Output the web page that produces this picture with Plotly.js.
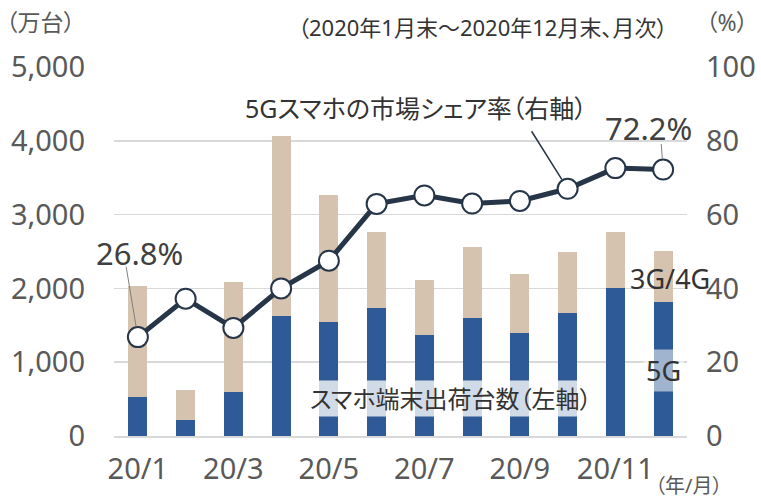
<!DOCTYPE html>
<html>
<head>
<meta charset="utf-8">
<script src="https://cdn.plot.ly/plotly-3.0.1.min.js"></script>
<style>
  html, body { margin: 0; padding: 0; background: #fff; }
  #chart { width: 761px; height: 501px; }
  svg text { font-feature-settings: "palt" 1; }
</style>
</head>
<body>
<div id="chart"></div>
<script>
// ---- data ----
const months = ['20/1','20/2','20/3','20/4','20/5','20/6','20/7','20/8','20/9','20/10','20/11','20/12'];
const shipments5G = [530, 220, 600, 1630, 1550, 1740, 1370, 1600, 1390, 1660, 2000, 1810];   // 万台
const shipments34G = [1500, 400, 1490, 2440, 1720, 1020, 750, 960, 800, 830, 760, 700];      // 万台
const share5G = [26.8, 37.2, 29.3, 40.0, 47.5, 62.9, 65.2, 63.0, 63.7, 67.0, 72.6, 72.2];     // %
const xTickLabels = ['20/1','20/3','20/5','20/7','20/9','20/11'];

const FONT = 'Noto Sans, Noto Sans CJK JP, sans-serif';
const BLUE = '#2E5A97';
const BEIGE = '#D5C2AF';
const NAVY = '#263547';
const GRID = '#D9D9D9';
const TICK = '#595959';
const TXT = '#333333';

// boundary tick positions (every two months)
const boundaryTicks = months.map((m, i) => i - 0.5).filter((v, i) => i % 2 === 0).concat([months.length - 0.5]);

const traces = [
  { type: 'bar', name: '5G', x: months, y: shipments5G, marker: { color: BLUE, line: { width: 0 } }, hoverinfo: 'skip' },
  { type: 'bar', name: '3G/4G', x: months, y: shipments34G, marker: { color: BEIGE, line: { width: 0 } }, hoverinfo: 'skip' },
  { type: 'scatter', mode: 'lines+markers', name: 'share', x: months, y: share5G, yaxis: 'y2',
    line: { color: NAVY, width: 5 },
    marker: { size: 20, color: '#ffffff', line: { color: NAVY, width: 2 } }, hoverinfo: 'skip' }
];

const L = 114, R = 687, T = 67, B = 436;
const px = (x) => (x - L) / (R - L);
const py = (y) => (B - y) / (B - T);

function label(text, cx, cy, size, color, extra) {
  return Object.assign({ text: text, xref: 'paper', yref: 'paper', x: px(cx), y: py(cy),
    xanchor: 'center', yanchor: 'middle', showarrow: false, font: { size: size, color: color } }, extra || {});
}

const annotations = [
  label('（万台）', 40, 22, 23, TICK),
  label('（%）', 727, 22, 23, TICK),
  label('（2020年1月末～2020年12月末、月次）', 482, 27, 22, TXT),
  label('（年/月）', 688, 485, 20, TICK),
  label('5Gスマホの市場シェア率（右軸）', 416, 108, 25, TXT),
  { text: '', xref: 'x', yref: 'y2', x: months[9], y: share5G[9], showarrow: true, arrowhead: 0, arrowwidth: 1.5, arrowcolor: NAVY, ax: -37, ay: -59, standoff: 11 },
  label('26.8%', 139, 253, 31, '#404040'),
  { text: '', xref: 'x', yref: 'y2', x: months[0], y: share5G[0], showarrow: true, arrowhead: 0, arrowwidth: 1, arrowcolor: '#7F7F7F', ax: -12, ay: -72, standoff: 11 },
  label('72.2%', 648.5, 128, 31, '#404040'),
  { text: '', xref: 'x', yref: 'y2', x: months[11], y: share5G[11], showarrow: true, arrowhead: 0, arrowwidth: 1, arrowcolor: '#7F7F7F', ax: -2, ay: -27, standoff: 11 },
  label('3G/4G', 669.5, 278, 27, TXT),
  label('5G', 663, 370, 27, TXT, { bgcolor: 'rgba(255,255,255,0.55)', borderpad: 2 }),
  label('スマホ端末出荷台数（左軸）', 451, 398, 24, TXT, { bgcolor: 'rgba(255,255,255,0.78)', borderpad: 1 })
];

const layout = {
  width: 761, height: 501,
  margin: { l: L, r: 761 - R, t: T, b: 501 - B, pad: 0 },
  paper_bgcolor: '#ffffff', plot_bgcolor: '#ffffff',
  font: { family: FONT, color: TICK },
  showlegend: false,
  barmode: 'stack',
  bargap: 0.6,
  xaxis: {
    type: 'category', categoryorder: 'array', categoryarray: months,
    range: [-0.5, months.length - 0.5],
    tickmode: 'array', tickvals: xTickLabels, ticktext: xTickLabels,
    ticks: '', showgrid: false, zeroline: false,
    showline: true, linecolor: GRID, linewidth: 2,
    tickfont: { size: 29, color: TICK, family: FONT },
    ticklabelstandoff: 6
  },
  xaxis2: {
    overlaying: 'x', anchor: 'y', side: 'bottom', type: 'linear',
    range: [-0.5, months.length - 0.5],
    tickmode: 'array', tickvals: boundaryTicks,
    showticklabels: false, ticks: 'outside', ticklen: 9, tickwidth: 2, tickcolor: GRID,
    showgrid: false, zeroline: false, showline: false
  },
  yaxis: {
    range: [0, 5000], dtick: 1000, tickformat: ',d',
    showgrid: true, gridcolor: GRID, gridwidth: 1.5, zeroline: false, showline: false,
    ticks: '', tickfont: { size: 29, color: TICK, family: FONT },
    ticklabelstandoff: 28
  },
  yaxis2: {
    overlaying: 'y', side: 'right', range: [0, 100], dtick: 20,
    showgrid: false, zeroline: false, showline: false,
    ticks: '', tickfont: { size: 29, color: TICK, family: FONT },
    ticklabelstandoff: 18
  },
  annotations: annotations
};

Plotly.newPlot('chart', traces, layout, { displayModeBar: false, staticPlot: true });
</script>
</body>
</html>
